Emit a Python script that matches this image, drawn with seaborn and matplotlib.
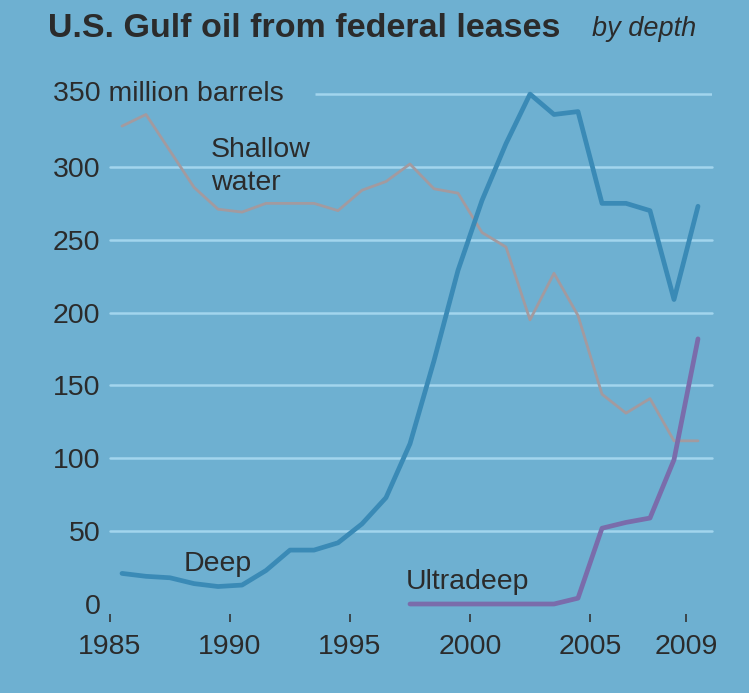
import numpy as np
import pandas as pd
import matplotlib
matplotlib.use("Agg")
import matplotlib.pyplot as plt
import matplotlib.transforms as mtransforms
import seaborn as sns

# ---- data (million barrels, by year) ----
years = list(range(1985, 2010))
shallow = [328, 336, 311, 286, 271, 269, 275, 275, 275, 270, 284, 290, 302, 285, 282,
           255, 245, 195, 227, 198, 144, 131, 141, 112, 112]
deep = [21, 19, 18, 14, 12, 13, 23, 37, 37, 42, 55, 73, 110, 167, 229,
        277, 316, 350, 336, 338, 275, 275, 270, 209, 273]
ultra_years = list(range(1997, 2010))
ultradeep = [0, 0, 0, 0, 0, 0, 0, 4, 52, 56, 59, 99, 182]

ytick_vals = [0, 50, 100, 150, 200, 250, 300]
grid_vals = [50, 100, 150, 200, 250, 300]
xtick_vals = [1985, 1990, 1995, 2000, 2005, 2009]

title = "U.S. Gulf oil from federal leases"
subtitle = "by depth"

bg = "#6eb0d1"
grid_c = "#a2d5ed"
deep_c = "#3a8ab6"
ultra_c = "#7a6cab"
shallow_c = "#a39a9f"
text_c = "#2b2b2b"

sns.set_theme(style="white")
plt.rcParams['font.family'] = ['Liberation Sans', 'DejaVu Sans']

FS = 20.5
W, H = 749, 693
fig = plt.figure(figsize=(W / 100, H / 100), dpi=100, facecolor=bg)

# axes placement (pixels)
x0_px, x1_px = 110, 712.4
y_top_px, y_bot_px = 86.8, 614.2
ax = fig.add_axes([x0_px / W, 1 - y_bot_px / H, (x1_px - x0_px) / W, (y_bot_px - y_top_px) / H])
ax.set_facecolor("none")
ax.set_xlim(1985, 2010.1)
ax.set_ylim(-7, 355)
for s in ax.spines.values():
    s.set_visible(False)

# gridlines
for v in grid_vals:
    ax.axhline(v, color=grid_c, lw=1.8, zorder=1)
ax.hlines(350, 1993.55, 2010.1, color=grid_c, lw=1.8, zorder=1)

df_main = pd.DataFrame({"x": np.array(years) + 0.5, "shallow": shallow, "deep": deep})
df_ultra = pd.DataFrame({"x": np.array(ultra_years) + 0.5, "ultradeep": ultradeep})

sns.lineplot(data=df_main, x="x", y="shallow", ax=ax, color=shallow_c, lw=2.0, zorder=3)
sns.lineplot(data=df_main, x="x", y="deep", ax=ax, color=deep_c, lw=3.4, zorder=4)
sns.lineplot(data=df_ultra, x="x", y="ultradeep", ax=ax, color=ultra_c, lw=3.4, zorder=5)
for ln in ax.lines:
    ln.set_clip_on(False)

ax.set_xlabel("")
ax.set_ylabel("")
ax.set_xticks(xtick_vals)
ax.set_xticklabels([str(v) for v in xtick_vals])
ax.set_yticks(ytick_vals)
ax.set_yticklabels([str(v) for v in ytick_vals])
ax.tick_params(axis="x", length=6, width=1.2, color="#333333", direction="out",
               pad=8, labelsize=FS, labelcolor=text_c, bottom=True)
ax.tick_params(axis="y", length=0, pad=7, labelsize=FS, labelcolor=text_c, left=False)

# 350 label
trans = mtransforms.blended_transform_factory(fig.transFigure, ax.transData)
ax.text(53 / W, 350, "350 million barrels", transform=trans, ha="left", va="center",
        fontsize=FS, color=text_c)

# series labels (figure pixel placement)
def ftext(xp, yp, s, **kw):
    fig.text(xp / W, 1 - yp / H, s, color=text_c, **kw)

ftext(211, 150, "Shallow", fontsize=FS, ha="left", va="center")
ftext(211, 183, "water", fontsize=FS, ha="left", va="center")
ftext(184, 564, "Deep", fontsize=FS, ha="left", va="center")
ftext(406, 582, "Ultradeep", fontsize=FS, ha="left", va="center")

# title
ftext(48, 37, title, fontsize=24.5, fontweight="bold", ha="left", va="baseline")
ftext(592, 36, subtitle, fontsize=19.5, style="italic", ha="left", va="baseline")

fig.savefig("out.png", dpi=100, facecolor=bg)
